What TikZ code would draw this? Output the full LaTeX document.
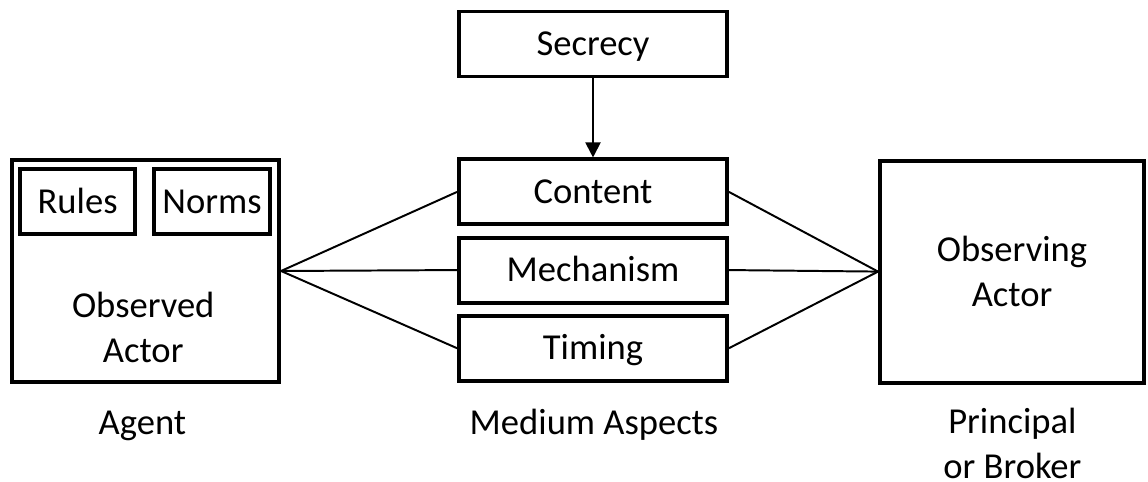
\documentclass[tikz,border=0pt]{standalone}
\usepackage{fontspec}
\setmainfont{Carlito}
\usetikzlibrary{positioning,arrows.meta}

\begin{document}
\begin{tikzpicture}[
    node distance=0.23cm,
    every node/.style={font=\fontsize{26}{32}\selectfont},
    box/.style={rectangle, draw, line width=2.8pt, inner sep=0pt},
    aspect/.style={box, minimum width=6.7cm, minimum height=1.625cm, text height=16.7pt, text depth=0pt},
    actor/.style={box, minimum height=5.55cm, align=center},
    tag/.style={box, minimum height=1.625cm, text height=16.7pt, text depth=0pt},
    link/.style={line width=1.4pt}
]
    \useasboundingbox (0,0) rectangle (28.7,12.05);

    % Medium aspects
    \node[aspect] (secrecy) at (14.825,10.95) {Secrecy};
    \node[aspect, below=1.975cm of secrecy] (content) {Content};
    \node[aspect, below=of content] (mechanism) {Mechanism};
    \node[aspect, below=of mechanism] (timing) {Timing};
    \node[anchor=base] (mediumlabel) at (14.85,1.175) {Medium Aspects};

    % Agent
    \node[actor, minimum width=6.675cm] (agent) at (3.64,5.275) {};
    \node[tag, minimum width=2.875cm] (rules) at (1.94,7.01) {Rules};
    \node[tag, minimum width=2.9cm] (norms) at (5.3,7.01) {Norms};
    \node[align=center] (observed) at (3.58,3.86) {Observed\\Actor};
    \node[anchor=base] (agentlabel) at (3.56,1.175) {Agent};

    % Principal
    \node[actor, minimum width=6.6cm] (observer) at (25.3,5.26) {Observing\\Actor};
    \node[align=center, inner sep=0pt] (principal) at (25.31,0.97) {Principal\\or Broker};

    % Links
    \draw[link, -{Triangle[length=0.38cm, width=0.38cm]}] (secrecy) -- (content);
    \draw[link] (agent.east) -- (content.west);
    \draw[link] (agent.east) -- (mechanism.west);
    \draw[link] (agent.east) -- (timing.west);
    \draw[link] (observer.west) -- (content.east);
    \draw[link] (observer.west) -- (mechanism.east);
    \draw[link] (observer.west) -- (timing.east);
\end{tikzpicture}
\end{document}
